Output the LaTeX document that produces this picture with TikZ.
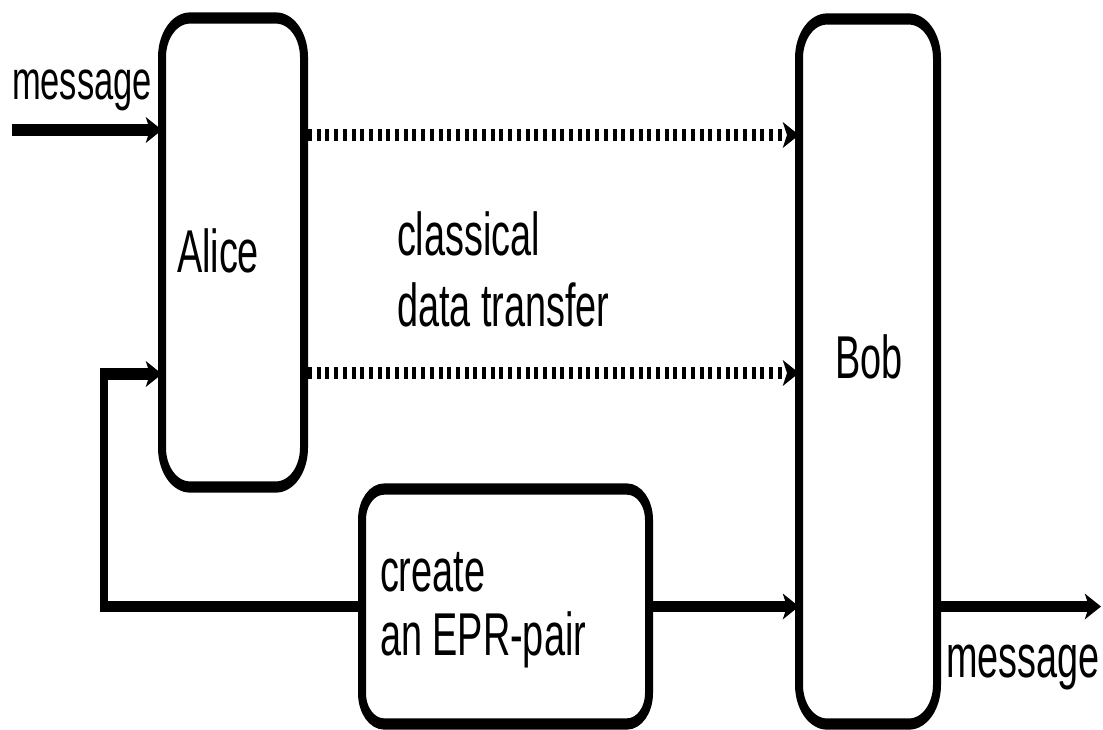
\documentclass[tikz,border=0pt]{standalone}
\usepackage{fontspec}
\setmainfont{Liberation Sans}[FakeStretch=0.876]
\usetikzlibrary{arrows.meta}
\tikzset{
  box/.style={draw, line width=4pt, rectangle, inner sep=0pt, outer sep=0pt},
  lbl/.style={anchor=base west, inner sep=0pt, outer sep=0pt, font=\fontsize{21.6pt}{25pt}\selectfont},
  conn/.style={line width=4pt, line join=miter, -{Stealth[length=8pt,width=9pt,inset=2pt]}},
  dotconn/.style={conn, dash pattern=on 2pt off 2.35pt, dash phase=2.35pt},
}
\begin{document}
\begin{tikzpicture}[x=0.5pt,y=-0.5pt]
\useasboundingbox (0,0) rectangle (1103,729);
\begin{scope}[transform canvas={yscale=1.4}, y=-0.357142857pt]
  % boxes
  \node[box, rounded corners=14pt, minimum width=71pt, minimum height=167.5pt] (alice) at (233,252.5) {};
  \node[box, rounded corners=14pt, minimum width=69pt, minimum height=251.8pt] (bob) at (868,371.5) {};
  \node[box, rounded corners=11pt, minimum width=143.5pt, minimum height=83.9pt] (epr) at (505.5,606.5) {};
  % labels
  \node[lbl, font=\fontsize{19.7pt}{24pt}\selectfont] (msgin) at (12,99) {message};
  \node[lbl] (alicet) at (177,272) {Alice};
  \node[lbl] (cl1) at (397,255) {classical};
  \node[lbl] (cl2) at (397,326) {data transfer};
  \node[lbl] (bobt) at (835,378) {Bob};
  \node[lbl] (ep1) at (380,591) {create};
  \node[lbl] (ep2) at (380,655) {an EPR-pair};
  \node[lbl] (msgout) at (946,677) {message};
  % coordinates
  \coordinate (inS) at (12,130);
  \coordinate (d1) at (0,135);
  \coordinate (d2) at (0,373);
  \coordinate (fb) at (104,374);
  \coordinate (outE) at (1101,606.5);
  % connectors
  \draw[conn] (inS) -- (inS -| alice.west);
  \draw[dotconn] (alice.east |- d1) -- (bob.west |- d1);
  \draw[dotconn] (alice.east |- d2) -- (bob.west |- d2);
  \draw[conn] (epr.west) -| (fb) -- (fb -| alice.west);
  \draw[conn] (epr.east) -- (epr.east -| bob.west);
  \draw[conn] (bob.east |- epr.east) -- (outE);
\end{scope}
\end{tikzpicture}
\end{document}
